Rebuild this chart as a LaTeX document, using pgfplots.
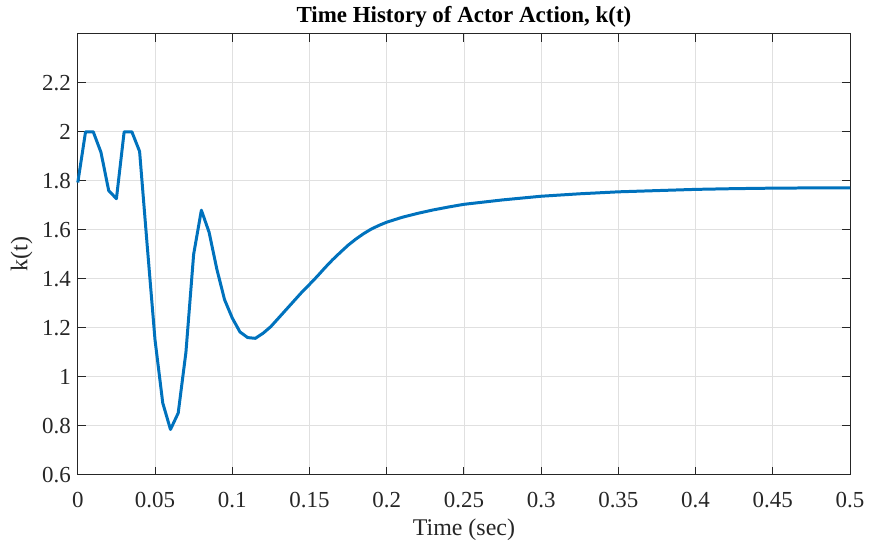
\documentclass[border=0pt]{standalone}
\usepackage{fontspec}
\setmainfont{Liberation Serif}
\usepackage{pgfplots}
\pgfplotsset{compat=1.18}
\definecolor{mblue}{rgb}{0,0.447,0.741}
\definecolor{axgray}{rgb}{0.15,0.15,0.15}
\begin{document}
\begin{tikzpicture}
\begin{axis}[
  name=ax,
  scale only axis,
  width=387pt, height=221pt,
  xmin=0, xmax=0.5, ymin=0.6, ymax=2.4,
  xtick={0,0.05,...,0.5},
  ytick={0.6,0.8,1,1.2,1.4,1.6,1.8,2,2.2},
  scaled x ticks=false,
  xticklabel style={/pgf/number format/fixed,/pgf/number format/precision=2, yshift=-5pt},
  yticklabel style={/pgf/number format/fixed,/pgf/number format/precision=1},
  /pgf/number format/assume math mode=true,
  tick label style={font=\fontsize{11.5}{13}\selectfont, text=axgray},
  label style={font=\fontsize{12}{14}\selectfont, text=axgray},
  title style={font=\bfseries\fontsize{11.5}{13}\selectfont, yshift=-6.5pt},
  title={Time History of Actor Action, k(t)},
  xlabel={Time (sec)},
  ylabel={k(t)},
  xlabel style={yshift=1pt},
  ylabel style={yshift=-2pt},
  grid=major,
  major grid style={draw=black!12, line width=0.4pt},
  axis line style={draw=axgray, line width=0.5pt},
  tick style={draw=axgray, line width=0.5pt},
  tick align=inside,
  major tick length=4pt,
  clip=false,
]
\addplot[mblue, line width=1.5pt, line join=round] coordinates {
(0,1.793) (0.005,2.0) (0.01,2.0) (0.015,1.916) (0.02,1.76) (0.025,1.727)
(0.03,2.0) (0.035,2.0) (0.04,1.92) (0.045,1.53) (0.05,1.15) (0.055,0.893)
(0.06,0.785) (0.065,0.852) (0.07,1.10) (0.075,1.50) (0.08,1.68) (0.085,1.59)
(0.09,1.44) (0.095,1.315) (0.1,1.24) (0.105,1.183) (0.11,1.16) (0.115,1.157)
(0.12,1.178) (0.125,1.205) (0.13,1.24) (0.135,1.275) (0.14,1.31) (0.145,1.345)
(0.15,1.377) (0.155,1.41) (0.16,1.445) (0.165,1.478) (0.17,1.508) (0.175,1.537)
(0.18,1.562) (0.185,1.584) (0.19,1.603) (0.195,1.618) (0.2,1.631) (0.21,1.651)
(0.22,1.667) (0.23,1.681) (0.24,1.693) (0.25,1.704) (0.275,1.722) (0.3,1.737)
(0.325,1.747) (0.35,1.755) (0.375,1.760) (0.4,1.765) (0.425,1.768) (0.45,1.770)
(0.475,1.771) (0.5,1.771)
};
\path (rel axis cs:0,0) ++(-39pt,-36.5pt) coordinate (bbsw);
\path (rel axis cs:1,1) ++(9.5pt,16.5pt) coordinate (bbne);
\end{axis}
\path (bbsw) rectangle (bbne);
\end{tikzpicture}
\end{document}
